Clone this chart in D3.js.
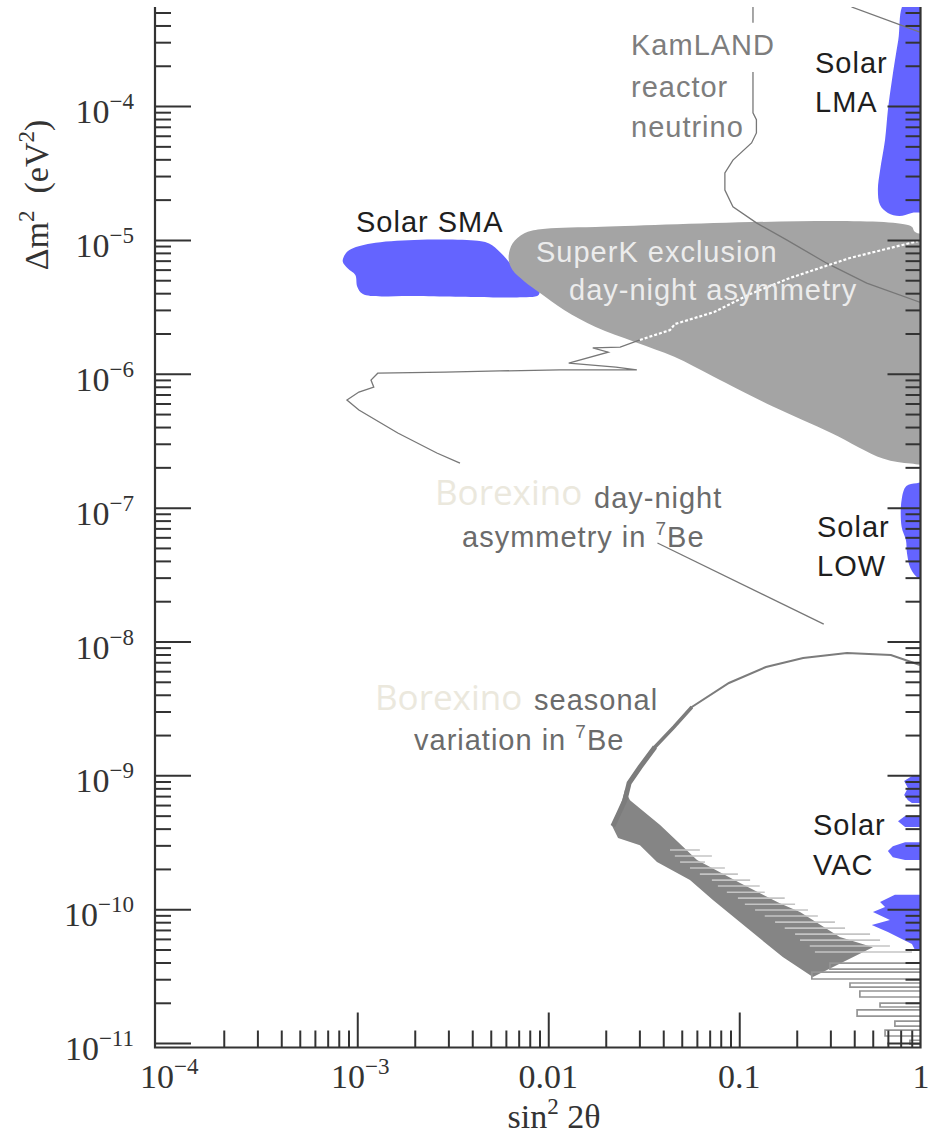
<!DOCTYPE html>
<html><head><meta charset="utf-8">
<script src="https://cdn.jsdelivr.net/npm/d3@7"></script>
<style>body{margin:0;background:#fff}svg{display:block}</style>
</head><body>
<svg id="c" width="931" height="1139"></svg>
<script>
// ---------- data (sin^2 2θ , Δm^2 eV^2) ----------
const xTickValues = [1e-4, 1e-3, 1e-2, 1e-1, 1];
const xTickBase   = ["10", "10", "0.01", "0.1", "1"];
const xTickExp    = ["−4", "−3", "", "", ""];
const yTickValues = [1e-4, 1e-5, 1e-6, 1e-7, 1e-8, 1e-9, 1e-10, 1e-11];
const yTickExp    = ["−4", "−5", "−6", "−7", "−8", "−9", "−10", "−11"];

const solarLMA = [[0.74,6e-4],[0.68,3.1e-4],[0.63,1.56e-4],[0.60,9.3e-5],[0.58,5.6e-5],[0.546,3.3e-5],[0.532,2.36e-5],[0.546,1.82e-5],[0.60,1.59e-5],[0.69,1.51e-5],[0.80,1.59e-5],[1.1,1.73e-5],[1.1,6e-4]];
const solarSMA = [[8.5e-4,7.5e-6],[9.1e-4,8.4e-6],[1.18e-3,9.4e-6],[1.99e-3,1.0e-5],[4.26e-3,9.86e-6],[4.9e-3,9.4e-6],[5.65e-3,8.0e-6],[6.53e-3,6.3e-6],[7.52e-3,5.0e-6],[8.9e-3,4.35e-6],[8.9e-3,3.87e-6],[6.86e-3,3.72e-6],[5.13e-3,3.72e-6],[1.99e-3,3.81e-6],[1.07e-3,3.94e-6],[1.0e-3,4.47e-6],[9.77e-4,5.46e-6],[8.9e-4,6.13e-6],[8.4e-4,6.87e-6]];
const solarLOW = [[1.1,1.55e-7],[0.85,1.52e-7],[0.75,1.45e-7],[0.708,1.14e-7],[0.708,7.2e-8],[0.746,5.7e-8],[0.755,4.6e-8],[0.783,3.6e-8],[0.832,3.13e-8],[0.88,2.95e-8],[1.1,2.9e-8]];
const solarVAC = [
  [[0.802,9.89e-10],[0.73,9.07e-10],[0.764,8.04e-10],[0.73,7.13e-10],[0.764,6.53e-10],[0.802,6.21e-10],[1.1,6.21e-10],[1.1,9.89e-10]],
  [[0.738,4.96e-10],[0.678,4.55e-10],[0.738,4.11e-10],[1.1,4.11e-10],[1.1,4.96e-10]],
  [[0.738,3.17e-10],[0.637,2.96e-10],[0.60,2.72e-10],[0.637,2.45e-10],[0.738,2.33e-10],[1.1,2.33e-10],[1.1,3.17e-10]],
  [[0.653,1.28e-10],[0.546,1.13e-10],[0.58,1.04e-10],[0.501,9.52e-11],[0.615,8.3e-11],[0.494,7.62e-11],[0.60,6.75e-11],[0.693,6.09e-11],[0.802,5.49e-11],[0.832,4.96e-11],[1.1,4.96e-11],[1.1,1.28e-10]]
];
const superK = [[6.2e-3,7.3e-6],[6.5e-3,9.4e-6],[7.5e-3,1.12e-5],[9.1e-3,1.2e-5],[0.0177,1.25e-5],[0.79,1.27e-5],[0.83,1.15e-5],[1.0,1.0e-5],[1.0,2.2e-7],[0.79,2.14e-7],[0.565,2.33e-7],[0.305,3.6e-7],[0.15,5.7e-7],[0.0735,9.5e-7],[0.0457,1.34e-6],[0.0284,1.73e-6],[0.0177,2.24e-6],[0.0121,3.0e-6],[9.1e-3,4.0e-6],[7.5e-3,4.9e-6],[6.5e-3,5.95e-6]];

const kamlandTop   = [[0.118,5.5e-4],[0.118,4.2e-4]];
const kamlandMain  = [[0.118,1.8e-4],[0.118,8.9e-5],[0.123,7.9e-5],[0.123,6.3e-5],[0.116,5.3e-5],[0.0927,3.95e-5],[0.0841,3.16e-5],[0.0841,2.36e-5],[0.0927,1.77e-5],[0.123,1.34e-5],[0.177,1.0e-5],[0.287,6.7e-6],[0.465,4.76e-6],[0.95,3.3e-6]];
const kamlandRight = [[0.387,5.5e-4],[0.883,3.57e-4]];

const borexDN = [[3.45e-3,2.15e-7],[2.61e-3,2.56e-7],[1.63e-3,3.61e-7],[1.02e-3,5.36e-7],[8.83e-4,6.37e-7],[1.02e-3,7.3e-7],[1.22e-3,7.96e-7],[1.18e-3,8.98e-7],[1.28e-3,1.01e-6],[2.88e-3,1.03e-6],[5.58e-3,1.05e-6],[0.0115,1.07e-6],[0.0291,1.07e-6],[0.0226,1.12e-6],[0.0128,1.20e-6],[0.0206,1.45e-6],[0.0171,1.56e-6],[0.0238,1.58e-6],[0.0302,1.79e-6]];
const borexDNinside = [[0.0302,1.79e-6],[0.0434,2.12e-6],[0.046,2.35e-6],[0.0738,2.89e-6],[0.114,3.94e-6],[0.184,5.19e-6],[0.380,7.33e-6],[0.861,9.79e-6]];
const borexDNlower = [[0.0373,5.44e-8],[0.277,1.35e-8]];

const seasonalArc = [[0.883,6.67e-9],[0.622,7.93e-9],[0.366,8.2e-9],[0.216,7.53e-9],[0.138,6.45e-9],[0.0883,4.9e-9],[0.0565,3.24e-9],[0.0455,2.3e-9],[0.0362,1.63e-9],[0.0302,1.15e-9],[0.0265,8.75e-10],[0.0252,6.53e-10],[0.0232,5.05e-10],[0.0218,4.18e-10]];
const seasonalBand = [[0.0252,7.76e-10],[0.0232,5.05e-10],[0.0216,4.18e-10],[0.0232,3.40e-10],[0.0302,3.01e-10],[0.0371,2.25e-10],[0.0552,1.65e-10],[0.0728,1.17e-10],[0.110,7.23e-11],[0.169,4.39e-11],[0.243,3.11e-11],[0.501,5.21e-11],[0.336,6.19e-11],[0.208,9.52e-11],[0.163,1.11e-10],[0.101,1.57e-10],[0.0601,2.33e-10],[0.0385,4.25e-10],[0.0268,6.53e-10]];
const stripeDm   = [2.77e-10,2.50e-10,2.25e-10,2.03e-10,1.83e-10,1.65e-10,1.49e-10,1.34e-10,1.21e-10,1.09e-10,9.86e-11,8.89e-11,8.01e-11,7.23e-11,6.52e-11,5.88e-11,5.31e-11,4.79e-11];
const stripeFrom = [0.0434,0.046,0.049,0.0552,0.0622,0.0719,0.0773,0.0861,0.0984,0.107,0.121,0.136,0.154,0.173,0.196,0.208,0.234,0.249];
const stripeTo   = [0.0622,0.0719,0.0662,0.0841,0.0984,0.114,0.128,0.136,0.173,0.196,0.229,0.258,0.317,0.358,0.484,0.546,0.615,0.802];
const fingerTop    = [3.96e-11,3.39e-11,2.81e-11,2.45e-11,1.99e-11,1.77e-11,1.46e-11,1.25e-11,1.05e-11];
const fingerBottom = [3.57e-11,3.01e-11,2.62e-11,2.21e-11,1.86e-11,1.59e-11,1.34e-11,1.13e-11,9.8e-12];
const fingerLeft   = [0.2985,0.240,0.380,0.428,0.546,0.414,0.653,0.580,0.783];

// ---------- scales ----------
const svg = d3.select("#c");
const X0 = 155, X1 = 920.5, Y0 = 7, Y1 = 1047.5;
const x = d3.scaleLog().domain([Math.pow(10,-4.059), Math.pow(10,-0.051)]).range([X0, X1]);
const y = d3.scaleLog().domain([Math.pow(10,-11.033), Math.pow(10,-3.26)]).range([Y1, Y0]);

svg.append("defs").append("clipPath").attr("id","clip")
  .append("rect").attr("x",X0).attr("y",Y0).attr("width",X1-X0).attr("height",Y1-Y0);
const plot = svg.append("g").attr("clip-path","url(#clip)");

const line = d3.line().x(d=>x(d[0])).y(d=>y(d[1]));
const smooth = d3.line().x(d=>x(d[0])).y(d=>y(d[1])).curve(d3.curveCatmullRomClosed.alpha(0.5));
const closed = d3.line().x(d=>x(d[0])).y(d=>y(d[1])).curve(d3.curveLinearClosed);

const BLUE = "#6464ff", GREY = "#a4a4a4";

plot.append("path").attr("d", smooth(solarSMA)).attr("fill", BLUE);
plot.append("path").attr("d", smooth(superK)).attr("fill", GREY);
plot.append("path").attr("d", smooth(solarLMA)).attr("fill", BLUE);
plot.append("path").attr("d", smooth(solarLOW)).attr("fill", BLUE);
solarVAC.forEach(p => plot.append("path").attr("d", closed(p)).attr("fill", BLUE));

// KamLAND lines
[kamlandTop, kamlandMain, kamlandRight].forEach(p =>
  plot.append("path").attr("d", line(p)).attr("fill","none").attr("stroke","#777").attr("stroke-width",1.3));

// Borexino day-night contour
plot.append("path").attr("d", line(borexDN)).attr("fill","none").attr("stroke","#777").attr("stroke-width",1.3);
plot.append("path").attr("d", line(borexDNinside)).attr("fill","none").attr("stroke","#ffffff")
  .attr("stroke-width",2.2).attr("stroke-dasharray","3,2");
plot.append("path").attr("d", line(borexDNlower)).attr("fill","none").attr("stroke","#777").attr("stroke-width",1.3);

// Borexino seasonal contour
plot.append("path").attr("d", closed(seasonalBand)).attr("fill","#858585");
plot.append("path").attr("d", line(seasonalArc)).attr("fill","none").attr("stroke","#7c7c7c").attr("stroke-width",2);
plot.append("path").attr("d", line(seasonalArc.slice(6))).attr("fill","none").attr("stroke","#7c7c7c").attr("stroke-width",3.5);
plot.append("path").attr("d", line(seasonalArc.slice(8))).attr("fill","none").attr("stroke","#7c7c7c").attr("stroke-width",5);
stripeDm.forEach((v,i) => {
  plot.append("line").attr("x1", x(stripeFrom[i])).attr("x2", x(stripeTo[i]))
    .attr("y1", y(v)).attr("y2", y(v)).attr("stroke","#c4c4c4").attr("stroke-width",1.6);
});
fingerTop.forEach((t,i) => {
  const pts = [[1.1,t],[fingerLeft[i],t],[fingerLeft[i],fingerBottom[i]],[1.1,fingerBottom[i]]];
  plot.append("path").attr("d", line(pts)).attr("fill","none").attr("stroke","#959595").attr("stroke-width",1.7);
});

// ---------- axes ----------
const AX = "#333";
const xMinor = x.ticks().filter(v => v > 1.0001e-4 && Math.abs(Math.log10(v) - Math.round(Math.log10(v))) > 1e-6);
const yMinor = y.ticks().filter(v => Math.abs(Math.log10(v) - Math.round(Math.log10(v))) > 1e-6);
const xMajor = xTickValues.filter(v => v > 1.0001e-4 && v < 0.95);
const yMajor = yTickValues;

function tickAxis(gen, vals, size, tx, ty){
  const g = svg.append("g").attr("transform",`translate(${tx},${ty})`)
    .call(gen.tickValues(vals).tickSize(size).tickSizeOuter(0).tickFormat(""));
  g.select(".domain").remove();
  g.selectAll("line").attr("stroke",AX).attr("stroke-width",2);
}
tickAxis(d3.axisBottom(x), xMinor, -17, 0, Y1);
tickAxis(d3.axisBottom(x), xMajor, -35, 0, Y1);
tickAxis(d3.axisLeft(y), yMinor, -16, X0, 0);
tickAxis(d3.axisLeft(y), yMajor, -36, X0, 0);
tickAxis(d3.axisRight(y), yMinor, -15, X1, 0);
tickAxis(d3.axisRight(y), yMajor, -33, X1, 0);

svg.append("path").attr("d",`M${X0},${Y0}V${Y1}H${X1}V${Y0}`).attr("fill","none")
  .attr("stroke",AX).attr("stroke-width",2.2);

const SERIF = "'Liberation Serif','DejaVu Serif',serif";
const FS = 34, SUP = 23;
xTickValues.forEach((v,i) => {
  const cx = Math.min(Math.max(x(v), X0), 921) + (xTickExp[i] ? 3 : 0);
  const t = svg.append("text").attr("font-family",SERIF).attr("font-size",FS).attr("fill","#333")
    .attr("text-anchor","middle").attr("x", cx).attr("y", 1088);
  t.append("tspan").text(xTickBase[i]);
  if (xTickExp[i]) t.append("tspan").attr("font-size",SUP).attr("dy",-14).text(xTickExp[i]);
});
yTickValues.forEach((v,i) => {
  const t = svg.append("text").attr("font-family",SERIF).attr("font-size",FS).attr("fill","#333")
    .attr("text-anchor","end").attr("x",134).attr("y", y(v) + 17);
  t.append("tspan").text("10");
  t.append("tspan").attr("font-size",SUP).attr("dy",-14).text(yTickExp[i]);
});

// axis titles
const xt = svg.append("text").attr("font-family",SERIF).attr("font-size",FS).attr("fill","#333")
  .attr("text-anchor","middle").attr("x",554).attr("y",1128);
xt.append("tspan").text("sin");
xt.append("tspan").attr("font-size",SUP).attr("dy",-14).text("2");
xt.append("tspan").attr("dy",14).text(" 2θ");

const yt = svg.append("text").attr("font-family",SERIF).attr("font-size",FS).attr("fill","#333")
  .attr("text-anchor","middle").attr("transform","translate(48,195) rotate(-90)");
yt.append("tspan").text("Δm");
yt.append("tspan").attr("font-size",SUP).attr("dy",-14).text("2");
yt.append("tspan").attr("dy",14).text("\u00a0 (eV");
yt.append("tspan").attr("font-size",SUP).attr("dy",-14).text("2");
yt.append("tspan").attr("dy",14).text(")");

// ---------- annotations ----------
const SANS = "'Liberation Sans',Arial,sans-serif";
function label(txt, lx, ly, col, opts={}){
  const t = svg.append("text").attr("font-family", opts.font || SANS).attr("font-size", opts.size || 29)
    .attr("letter-spacing", opts.ls === undefined ? 1 : opts.ls)
    .attr("fill", col).attr("x", lx).attr("y", ly);
  if (opts.sup) {
    t.append("tspan").text(txt);
    t.append("tspan").attr("font-size",19).attr("dy",-12).text(opts.sup);
    t.append("tspan").attr("dy",12).text(opts.after);
  } else t.text(txt);
  return t;
}
label("KamLAND", 631, 55, "#7d7d7d");
label("reactor", 631, 97, "#7d7d7d");
label("neutrino", 631, 137, "#7d7d7d");
label("Solar", 815, 73, "#1e1e1e");
label("LMA", 815, 112, "#1e1e1e");
label("Solar SMA", 356, 232, "#1e1e1e");
label("SuperK exclusion", 536, 262, "#ececec");
label("day-night asymmetry", 569, 300, "#ececec");
label("Borexino", 435, 505, "#ebe8dd", {font:"'Open Sans','Noto Sans',sans-serif", size:35, ls:0});
label("day-night", 594, 508, "#6b6b6b");
label("asymmetry in ", 462, 547, "#6b6b6b", {sup:"7", after:"Be"});
label("Solar", 817, 537, "#1e1e1e");
label("LOW", 817, 576, "#1e1e1e");
label("Borexino", 375, 710, "#ebe8dd", {font:"'Open Sans','Noto Sans',sans-serif", size:35, ls:0});
label("seasonal", 534, 710, "#6b6b6b");
label("variation in ", 414, 750, "#6b6b6b", {sup:"7", after:"Be"});
label("Solar", 813, 835, "#1e1e1e");
label("VAC", 813, 875, "#1e1e1e");
</script>
</body></html>
